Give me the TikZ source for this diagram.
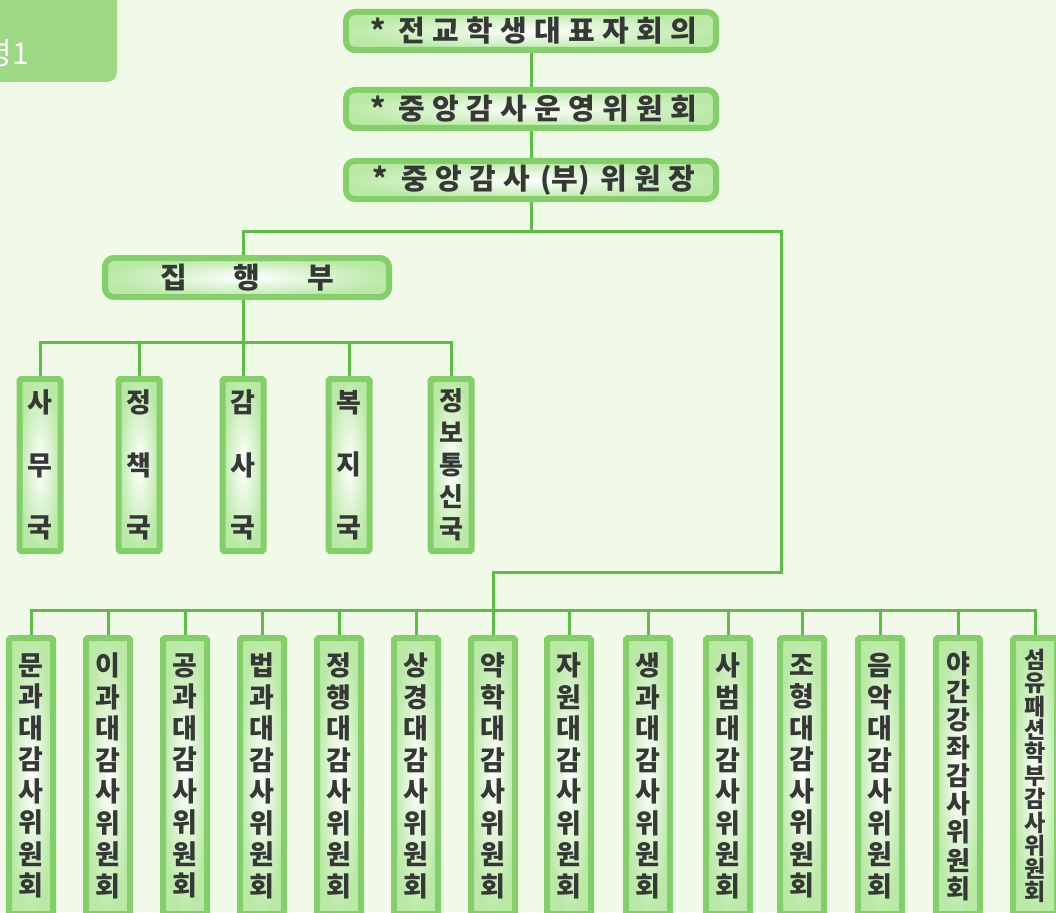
\documentclass[tikz,border=0pt]{standalone}
\usepackage{fontspec}
\newfontfamily\kr{Noto Sans CJK KR}
\usetikzlibrary{calc}
\definecolor{bgc}{HTML}{F1FAE9}
\definecolor{linec}{HTML}{5CBE45}
\definecolor{boxborder}{HTML}{84CF69}
\definecolor{boxin}{HTML}{BAE9A6}
\definecolor{tabc}{HTML}{9DD985}
\definecolor{txtc}{HTML}{363836}
\newcommand\cs[1]{\makebox[34pt]{#1}}
\newcommand\cw[1]{\makebox[73.5pt]{#1}}
\tikzset{
  conn/.style={draw=linec, line width=3pt},
  topbox/.style={draw=boxborder, line width=6pt, rounded corners=9pt,
     inner color=white, outer color=boxin, text=txtc,
     font=\kr\bfseries\fontsize{29}{29}\selectfont, inner sep=0pt},
  vbox/.style={draw=boxborder, line width=6pt, rounded corners=1.5pt,
     inner color=white, outer color=boxin, text=txtc, align=center,
     minimum width=41pt, inner sep=0pt},
  smallbox/.style={vbox, minimum height=172pt},
  bigbox/.style={vbox, minimum width=44pt, minimum height=276pt},
  f3/.style={font=\kr\bfseries\fontsize{27}{62.5}\selectfont},
  f5/.style={font=\kr\bfseries\fontsize{26}{32}\selectfont},
  f8/.style={font=\kr\bfseries\fontsize{27}{31.5}\selectfont},
  f9/.style={font=\kr\bfseries\fontsize{26}{28.1}\selectfont},
  f11/.style={font=\kr\bfseries\fontsize{23}{23.2}\selectfont},
}
\begin{document}
\begin{tikzpicture}[x=1pt,y=-1pt]
\useasboundingbox (0,0) rectangle (1056,912);
\fill[bgc] (0,0) rectangle (1056,912);
% corner tab
\fill[tabc, rounded corners=10pt] (-30,-30) rectangle (117,82);
\node[anchor=base east, text=white, inner sep=0pt, font=\kr\fontsize{30}{30}\selectfont] (tab) at (29,65) {령1};
% top boxes
\node[topbox, minimum width=370pt, minimum height=38pt] (t1) at (531,31)
  {\cs{*}\cs{전}\cs{교}\cs{학}\cs{생}\cs{대}\cs{표}\cs{자}\cs{회}\cs{의}\hspace{16pt}};
\node[topbox, minimum width=370pt, minimum height=38pt] (t2) at (531,109)
  {\cs{*}\cs{중}\cs{앙}\cs{감}\cs{사}\cs{운}\cs{영}\cs{위}\cs{원}\cs{회}\hspace{16pt}};
\node[topbox, minimum width=370pt, minimum height=38pt] (t3) at (531,180)
  {\cs{*}\cs{중}\cs{앙}\cs{감}\cs{사}\makebox[63pt]{(부)}\cs{위}\cs{원}\cs{장}\hspace{16pt}};
\node[topbox, minimum width=284pt, minimum height=39pt] (jip) at (247,277.5)
  {\cw{집}\cw{행}\cw{부}};
% executive departments
\node[smallbox, f3] (v1) at (40,465) {사\\무\\국};
\node[smallbox, f3] (v2) at (139,465) {정\\책\\국};
\node[smallbox, f3] (v3) at (243,465) {감\\사\\국};
\node[smallbox, f3] (v4) at (349,465) {복\\지\\국};
\node[smallbox, f5] (v5) at (451,465) {정\\보\\통\\신\\국};
% audit committees
\node[bigbox, f8] (b1) at (31,776) {문\\과\\대\\감\\사\\위\\원\\회};
\node[bigbox, f8] (b2) at (108,776) {이\\과\\대\\감\\사\\위\\원\\회};
\node[bigbox, f8] (b3) at (185,776) {공\\과\\대\\감\\사\\위\\원\\회};
\node[bigbox, f8] (b4) at (262,776) {법\\과\\대\\감\\사\\위\\원\\회};
\node[bigbox, f8] (b5) at (339,776) {정\\행\\대\\감\\사\\위\\원\\회};
\node[bigbox, f8] (b6) at (416,776) {상\\경\\대\\감\\사\\위\\원\\회};
\node[bigbox, f8] (b7) at (493,776) {약\\학\\대\\감\\사\\위\\원\\회};
\node[bigbox, f8] (b8) at (569,776) {자\\원\\대\\감\\사\\위\\원\\회};
\node[bigbox, f8] (b9) at (648,776) {생\\과\\대\\감\\사\\위\\원\\회};
\node[bigbox, f8] (b10) at (728,776) {사\\범\\대\\감\\사\\위\\원\\회};
\node[bigbox, f8] (b11) at (802,776) {조\\형\\대\\감\\사\\위\\원\\회};
\node[bigbox, f8] (b12) at (880,776) {음\\악\\대\\감\\사\\위\\원\\회};
\node[bigbox, f9] (b13) at (958,776) {야\\간\\강\\좌\\감\\사\\위\\원\\회};
\node[bigbox, f11] (b14) at (1035,776) {섬\\유\\패\\션\\학\\부\\감\\사\\위\\원\\회};
% coordinates
\coordinate (jl) at (243,231);
\coordinate (jr) at (781,231);
\coordinate (r1) at (781,572);
\coordinate (vb) at (243,342);
\coordinate (bus) at (493,610);
% connectors
\draw[conn] (t1) -- (t2);
\draw[conn] (t2) -- (t3);
\draw[conn] (t3.south) -- (t3.south |- jl);
\draw[conn] (jip.north -| jl) -- (jl) -- (jr) -- (r1) -- (b7.north |- r1) -- (b7.north);
\draw[conn] (jip.south -| v3.north) -- (v3.north);
\draw[conn] (v1.north) |- (vb) -| (v5.north);
\draw[conn] (v2.north) -- (v2.north |- vb);
\draw[conn] (v4.north) -- (v4.north |- vb);
\draw[conn] (b1.north) |- (bus) -| (b14.north);
\foreach \i in {2,3,4,5,6,8,9,10,11,12,13}
  \draw[conn] (b\i.north) -- (b\i.north |- bus);
\end{tikzpicture}
\end{document}
